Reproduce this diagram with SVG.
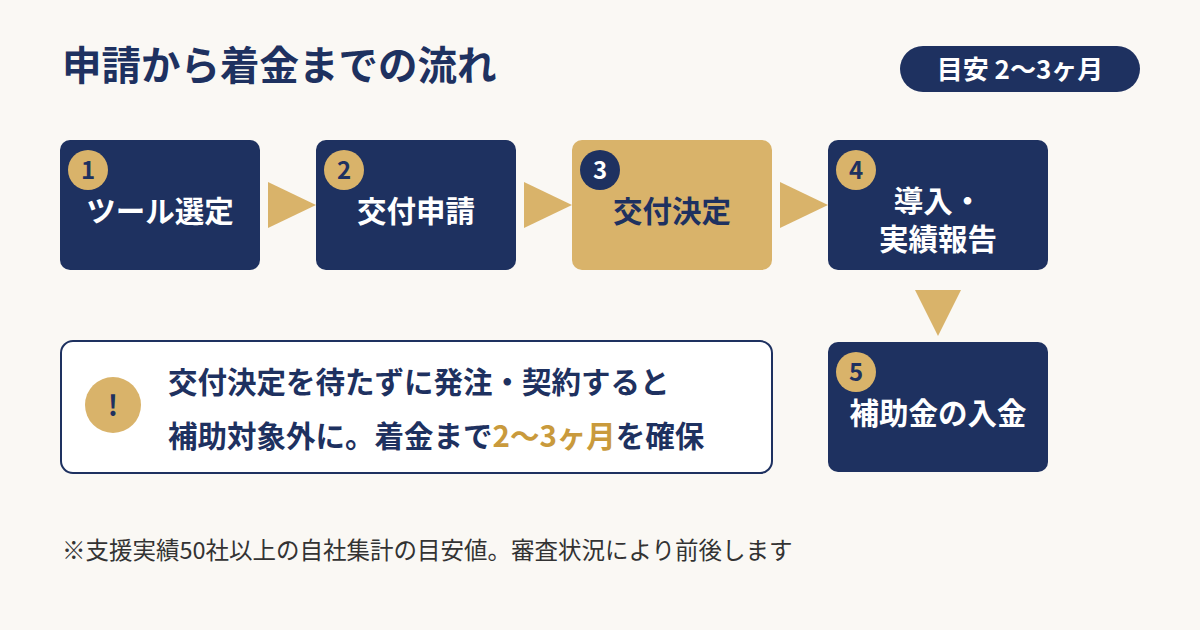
<svg xmlns="http://www.w3.org/2000/svg" width="1200" height="630" viewBox="0 0 1200 630">
<style>
text{font-family:"Noto Sans CJK JP","Noto Sans",sans-serif;font-weight:700}
.box{fill:#1e3160}
.gold{fill:#d9b36a}
.lbl{fill:#fff;font-size:29.5px;text-anchor:middle}
.num{font-size:24px;text-anchor:middle;fill:#1e3160}
.arr{fill:#d9b36a}
</style>
<rect width="1200" height="630" fill="#faf8f4"/>
<text x="62" y="80" font-size="39.5" fill="#1e3160">申請から着金までの流れ</text>
<g id="badge"><rect x="900" y="46" width="240" height="46" rx="23" class="box"/><text x="1020" y="79" font-size="26" fill="#fff" text-anchor="middle">目安 2〜3ヶ月</text></g>
<g id="connectors">
<polygon class="arr" points="268,182 316,205 268,228"/>
<polygon class="arr" points="524,182 572,205 524,228"/>
<polygon class="arr" points="780,182 828,205 780,228"/>
<polygon class="arr" points="915,290 961,290 938,336"/>
</g>
<g id="n1"><rect x="60" y="140" width="200" height="130" rx="10" class="box"/><circle cx="88" cy="170" r="20" class="gold"/><text x="88" y="179" class="num">1</text><text x="160" y="222" class="lbl">ツール選定</text></g>
<g id="n2"><rect x="316" y="140" width="200" height="130" rx="10" class="box"/><circle cx="344" cy="170" r="20" class="gold"/><text x="344" y="179" class="num">2</text><text x="416" y="222" class="lbl">交付申請</text></g>
<g id="n3"><rect x="572" y="140" width="200" height="130" rx="10" class="gold"/><circle cx="600" cy="170" r="20" class="box"/><text x="600" y="179" class="num" style="fill:#fff">3</text><text x="672" y="222" class="lbl" style="fill:#1e3160">交付決定</text></g>
<g id="n4"><rect x="828" y="140" width="220" height="130" rx="10" class="box"/><circle cx="856" cy="170" r="20" class="gold"/><text x="856" y="179" class="num">4</text><text x="938" y="212" class="lbl">導入・</text><text x="938" y="250" class="lbl">実績報告</text></g>
<g id="n5"><rect x="828" y="342" width="220" height="130" rx="10" class="box"/><circle cx="856" cy="372" r="20" class="gold"/><text x="856" y="381" class="num">5</text><text x="938" y="424" class="lbl">補助金の入金</text></g>
<g id="note"><rect x="61" y="341" width="711" height="132" rx="12" fill="#fff" stroke="#1e3160" stroke-width="2"/><circle cx="113" cy="405" r="28" class="gold"/><text x="113" y="416" font-size="28" text-anchor="middle" fill="#1e3160">!</text>
<text x="168" y="393" font-size="29.5" fill="#1e3160">交付決定を待たずに発注・契約すると</text>
<text x="168" y="447" font-size="29.5" fill="#1e3160">補助対象外に。着金まで<tspan fill="#c99a3c">2〜3ヶ月</tspan>を確保</text></g>
<text x="62" y="559" font-size="23.5" style="font-weight:400" fill="#333">※支援実績50社以上の自社集計の目安値。審査状況により前後します</text>
</svg>
